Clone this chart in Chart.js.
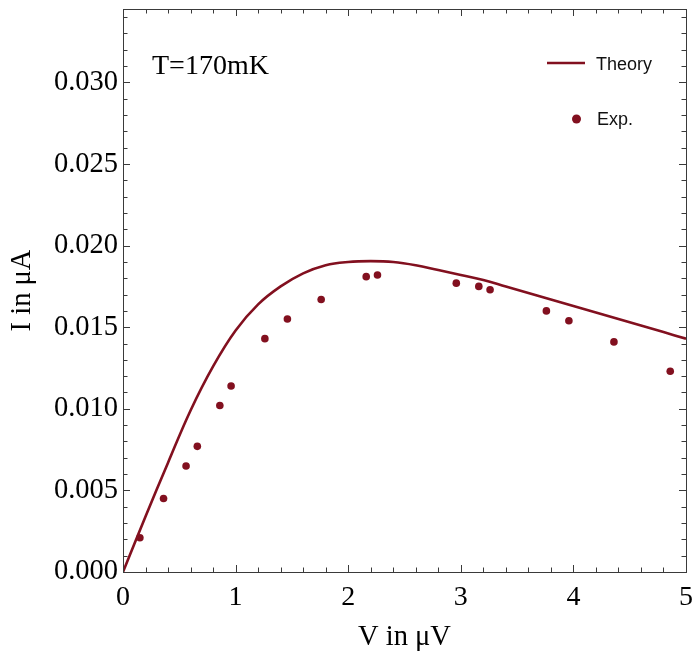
<!DOCTYPE html>
<html>
<head>
<meta charset="utf-8">
<script src="https://cdn.jsdelivr.net/npm/chart.js@4.4.1/dist/chart.umd.min.js"></script>
<style>
  html, body { margin: 0; padding: 0; background: #fff; }
</style>
</head>
<body>
<canvas id="chart" width="699" height="668"></canvas>
<script>
'use strict';

// Theory curve (V in uV, I in uA)
const theoryV = [0, 0.2, 0.4, 0.6, 0.8, 1.0, 1.2, 1.4, 1.6, 1.8, 2.0, 2.2, 2.4, 2.6, 2.8, 3.0, 3.2, 3.4, 3.6, 3.8, 4.0, 4.2, 4.4, 4.6, 4.8, 5.0];
const theoryI = [0, 0.0034, 0.0067, 0.0099, 0.0126, 0.0148, 0.0164, 0.0175, 0.0183, 0.0188, 0.0190, 0.01905, 0.0190, 0.0188, 0.0185, 0.0182, 0.0179, 0.0175, 0.0171, 0.0167, 0.0163, 0.0159, 0.0155, 0.0151, 0.0147, 0.0143];

// Measured points
const expV = [0.15, 0.36, 0.56, 0.66, 0.86, 0.96, 1.26, 1.46, 1.76, 2.16, 2.26, 2.96, 3.16, 3.26, 3.76, 3.96, 4.36, 4.86];
const expI = [0.0021, 0.0045, 0.0065, 0.0077, 0.0102, 0.0114, 0.0143, 0.0155, 0.0167, 0.0181, 0.0182, 0.0177, 0.0175, 0.0173, 0.0160, 0.0154, 0.0141, 0.0123];

const xTicks = [0, 1, 2, 3, 4, 5];
const yTicks = [0, 0.005, 0.010, 0.015, 0.020, 0.025, 0.030];

const seriesLabels = ['Theory', 'Exp.'];
const noteText = 'T=170mK';

const RED = '#82101f';
const FRAME = '#3a3a3a';
const SERIF = '"Liberation Serif", "Times New Roman", serif';
const SANS = '"Liberation Sans", Arial, sans-serif';

function toPoints(xs, ys) {
  return xs.map(function (x, i) { return { x: x, y: ys[i] }; });
}

// Mathematica-like frame with inward ticks on all four sides
const framePlugin = {
  id: 'frame',
  afterDraw: function (chart) {
    const ctx = chart.ctx;
    const a = chart.chartArea;
    const xs = chart.scales.x;
    const ys = chart.scales.y;
    ctx.save();
    ctx.strokeStyle = FRAME;
    ctx.lineWidth = 1;
    ctx.strokeRect(Math.round(a.left) + 0.5, Math.round(a.top) + 0.5,
      Math.round(a.right - a.left), Math.round(a.bottom - a.top));

    function vtick(v, len) {
      const p = Math.round(xs.getPixelForValue(v)) + 0.5;
      ctx.beginPath();
      ctx.moveTo(p, a.bottom); ctx.lineTo(p, a.bottom - len);
      ctx.moveTo(p, a.top); ctx.lineTo(p, a.top + len);
      ctx.stroke();
    }
    function htick(v, len) {
      const p = Math.round(ys.getPixelForValue(v)) + 0.5;
      ctx.beginPath();
      ctx.moveTo(a.left, p); ctx.lineTo(a.left + len, p);
      ctx.moveTo(a.right, p); ctx.lineTo(a.right - len, p);
      ctx.stroke();
    }
    for (let i = 0; i <= 25; i++) {
      vtick(i * 0.2, i % 5 === 0 ? 7 : 4.5);
    }
    for (let j = 0; j <= 34; j++) {
      htick(j * 0.001, j % 5 === 0 ? 7 : 4.5);
    }

    // legend
    ctx.strokeStyle = RED;
    ctx.lineWidth = 2.5;
    ctx.beginPath();
    ctx.moveTo(547, 63); ctx.lineTo(585, 63);
    ctx.stroke();
    ctx.fillStyle = RED;
    ctx.beginPath();
    ctx.arc(576.5, 119, 4.5, 0, Math.PI * 2);
    ctx.fill();
    ctx.fillStyle = '#111';
    ctx.font = '18px ' + SANS;
    ctx.textBaseline = 'alphabetic';
    ctx.textAlign = 'left';
    ctx.fillText(seriesLabels[0], 596, 70);
    ctx.fillText(seriesLabels[1], 597, 125);

    // temperature note
    ctx.fillStyle = '#000';
    ctx.font = '28px ' + SERIF;
    ctx.fillText(noteText, 152, 74);
    ctx.restore();
  }
};

const ctx = document.getElementById('chart').getContext('2d');
new Chart(ctx, {
  type: 'scatter',
  data: {
    datasets: [{
      label: seriesLabels[0],
      data: toPoints(theoryV, theoryI),
      showLine: true,
      borderColor: RED,
      borderWidth: 2.6,
      pointRadius: 0,
      tension: 0.4,
      fill: false,
    }, {
      label: seriesLabels[1],
      data: toPoints(expV, expI),
      showLine: false,
      backgroundColor: RED,
      borderColor: RED,
      borderWidth: 0,
      pointRadius: 3.8,
    }],
  },
  options: {
    responsive: false,
    animation: false,
    layout: { padding: { left: 0, top: 9, right: 13, bottom: 0 } },
    plugins: {
      legend: { display: false },
      tooltip: { enabled: false },
    },
    scales: {
      x: {
        type: 'linear',
        min: 0,
        max: 5,
        afterFit: function (scale) {
          scale.height = 96;
          scale.paddingLeft = 0;
          scale.paddingRight = 0;
        },
        afterBuildTicks: function (scale) {
          scale.ticks = xTicks.map(function (v) { return { value: v }; });
        },
        grid: { display: false, drawTicks: false },
        border: { display: false },
        ticks: {
          padding: 9,
          color: '#000',
          font: { family: SERIF, size: 28 },
          callback: function (v) { return String(v); },
        },
        title: {
          display: true,
          text: 'V in μV',
          color: '#000',
          font: { family: SERIF, size: 28.5 },
          padding: { top: 0, bottom: 13 },
        },
      },
      y: {
        type: 'linear',
        min: 0,
        max: 0.0345,
        afterFit: function (scale) {
          scale.width = 123;
          scale.paddingTop = 0;
          scale.paddingBottom = 0;
        },
        afterBuildTicks: function (scale) {
          scale.ticks = yTicks.map(function (v) { return { value: v }; });
        },
        grid: { display: false, drawTicks: false },
        border: { display: false },
        ticks: {
          padding: 5,
          color: '#000',
          font: { family: SERIF, size: 28.5 },
          callback: function (v) { return Number(v).toFixed(3); },
        },
        title: {
          display: true,
          text: 'I in μA',
          color: '#000',
          font: { family: SERIF, size: 28.5 },
          padding: { top: 5, bottom: 0 },
        },
      },
    },
  },
  plugins: [framePlugin],
});
</script>
</body>
</html>
